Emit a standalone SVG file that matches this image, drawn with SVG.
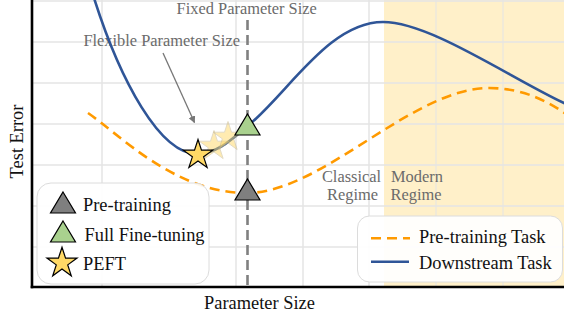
<svg xmlns="http://www.w3.org/2000/svg" width="564" height="320" viewBox="0 0 564 320">
  <style>
    .grid { stroke: #e4e4e4; stroke-width: 1.5; fill: none; }
    .axis { stroke: #000; stroke-width: 2.6; fill: none; }
    .note { font-family: "Liberation Serif", "Times New Roman", serif; font-size: 16.4px; fill: #6b6b6b; }
    .label { font-family: "Liberation Serif", "Times New Roman", serif; font-size: 18.4px; fill: #111; }
    .pretrain { stroke: #ff9a00; stroke-width: 2.6; fill: none; stroke-dasharray: 10 6; }
    .downstream { stroke: #2f5597; stroke-width: 2.6; fill: none; }
    .legend-box { fill: #fff; fill-opacity: 0.92; stroke: #dcdcdc; stroke-width: 1; }
    .tri-gray { fill: #7f7f7f; stroke: #000; stroke-width: 1.2; stroke-linejoin: miter; }
    .tri-green { fill: #a9d18e; stroke: #000; stroke-width: 1.2; }
    .star { fill: #ffd966; stroke: #000; stroke-width: 1.2; stroke-linejoin: miter; }
    .star-faded { fill: #ffd966; stroke: #c8b78a; stroke-width: 1; opacity: 0.5; }
  </style>
  <defs>
    <path id="star" d="M0,-15.5 L3.48,-4.79 L14.74,-4.79 L5.63,1.83 L9.11,12.54 L0,5.92 L-9.11,12.54 L-5.63,1.83 L-14.74,-4.79 L-3.48,-4.79 Z"/>
    <path id="tri" d="M0,-12 L12.5,9 L-12.5,9 Z"/>
    <marker id="arrowhead" viewBox="0 0 10 10" refX="9" refY="5" markerWidth="7" markerHeight="7" orient="auto" markerUnits="userSpaceOnUse">
      <path d="M0,0 L10,5 L0,10 Z" fill="#777"/>
    </marker>
  </defs>

  <!-- background and modern-regime shading -->
  <rect x="0" y="0" width="564" height="320" fill="#fff"/>
  <rect x="384" y="0" width="180" height="287" fill="#fff0c9"/>

  <!-- grid -->
  <g id="grid">
    <line class="grid" x1="102" y1="0" x2="102" y2="287"/>
    <line class="grid" x1="236" y1="0" x2="236" y2="287"/>
    <line class="grid" x1="303" y1="0" x2="303" y2="287"/>
    <line class="grid" x1="369" y1="0" x2="369" y2="287"/>
    <line class="grid" x1="436" y1="0" x2="436" y2="287" stroke-opacity="0.7"/>
    <line class="grid" x1="503" y1="0" x2="503" y2="287" stroke-opacity="0.7"/>
    <line class="grid" x1="32" y1="1" x2="564" y2="1"/>
    <line class="grid" x1="32" y1="42" x2="564" y2="42"/>
    <line class="grid" x1="32" y1="83" x2="564" y2="83"/>
    <line class="grid" x1="32" y1="124" x2="564" y2="124"/>
    <line class="grid" x1="32" y1="165" x2="564" y2="165"/>
    <line class="grid" x1="32" y1="206" x2="564" y2="206"/>
    <line class="grid" x1="32" y1="247" x2="564" y2="247"/>
  </g>

  <!-- annotations -->
  <g id="annotations">
    <text class="note" x="246.7" y="14" text-anchor="middle">Fixed Parameter Size</text>
    <text class="note" x="161.7" y="46" text-anchor="middle" font-size="16.5">Flexible Parameter Size</text>
    <text class="note" x="351.5" y="181.5" text-anchor="middle">Classical</text>
    <text class="note" x="352.5" y="200" text-anchor="middle">Regime</text>
    <text class="note" x="417" y="181.5" text-anchor="middle">Modern</text>
    <text class="note" x="416" y="200" text-anchor="middle">Regime</text>
  </g>

  <!-- connectors: curves, fixed-size line, arrow -->
  <g id="connectors">
    <line x1="247.5" y1="20" x2="247.5" y2="287" stroke="#808080" stroke-width="2.6" stroke-dasharray="10 5"/>
    <path class="pretrain" d="M88,113 C120,135 175,193 247,193 C322,193 412,88 489,88 C525,88 550,103 566,114"/>
    <path class="downstream" d="M94,-2 C120,80 160,155 198,154 C220,153 235,136 250,124 C290,90 330,22 383,22 C430,22 510,78 566,104"/>
    <line x1="163" y1="53" x2="194.5" y2="122.5" stroke="#777" stroke-width="1.3" marker-end="url(#arrowhead)"/>
  </g>

  <!-- markers on the curves -->
  <g id="peft-candidates">
    <use href="#star" class="star-faded" transform="translate(214,146)"/>
    <use href="#star" class="star-faded" transform="translate(228,137)"/>
  </g>
  <g id="peft-point">
    <use href="#star" class="star" transform="translate(198,155)"/>
  </g>
  <g id="full-finetune-point">
    <use href="#tri" class="tri-green" transform="translate(247.5,126)"/>
  </g>
  <g id="pretrain-point">
    <use href="#tri" class="tri-gray" transform="translate(247.5,191)"/>
  </g>

  <!-- axes -->
  <g id="axes">
    <line class="axis" x1="32" y1="0" x2="32" y2="288.3"/>
    <line class="axis" x1="30.7" y1="287" x2="564" y2="287"/>
    <text class="label" x="259.5" y="309" text-anchor="middle">Parameter Size</text>
    <text class="label" transform="translate(23,141.5) rotate(-90)" text-anchor="middle" font-size="18">Test Error</text>
  </g>

  <!-- marker legend -->
  <g id="legend-methods">
    <rect class="legend-box" x="37" y="183" width="172" height="101" rx="14"/>
    <use href="#tri" class="tri-gray" transform="translate(63,204)"/>
    <text class="label" x="83" y="211">Pre-training</text>
    <use href="#tri" class="tri-green" transform="translate(63,233)"/>
    <text class="label" x="84.5" y="241">Full Fine-tuning</text>
    <use href="#star" class="star" transform="translate(62,263) scale(1.02)"/>
    <text class="label" x="83" y="270">PEFT</text>
  </g>

  <!-- curve legend -->
  <g id="legend-tasks">
    <rect class="legend-box" x="357.5" y="216" width="205" height="66" rx="12"/>
    <line class="pretrain" x1="371" y1="238.3" x2="410" y2="238.3" stroke-dasharray="9 6"/>
    <text class="label" x="419" y="243">Pre-training Task</text>
    <line class="downstream" x1="371" y1="261.7" x2="409" y2="261.7"/>
    <text class="label" x="419" y="269">Downstream Task</text>
  </g>
</svg>
